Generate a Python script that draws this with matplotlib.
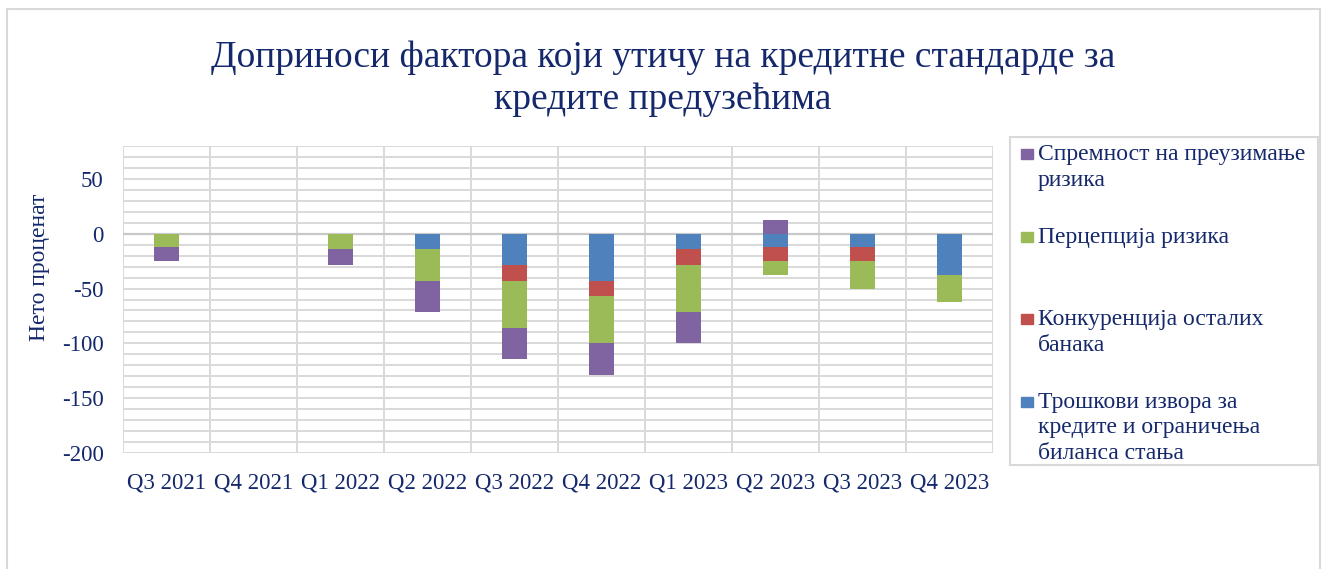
import matplotlib.pyplot as plt
import matplotlib.patches as mpatches
import numpy as np

plt.rcParams['font.family'] = ['Liberation Serif', 'DejaVu Serif']
plt.rcParams['axes.unicode_minus'] = False

quarters = ['Q3 2021', 'Q4 2021', 'Q1 2022', 'Q2 2022', 'Q3 2022',
            'Q4 2022', 'Q1 2023', 'Q2 2023', 'Q3 2023', 'Q4 2023']

# series in stacking order (first one sits next to zero)
troskovi = [0, 0, 0, -14.3, -28.6, -42.9, -14.3, -12.5, -12.5, -37.5]
konkurencija = [0, 0, 0, 0, -14.3, -14.3, -14.3, -12.5, -12.5, 0]
percepcija = [-12.5, 0, -14.3, -28.6, -42.9, -42.9, -42.9, -12.5, -25, -25]
spremnost = [-12.5, 0, -14.3, -28.6, -28.6, -28.6, -28.6, 12.5, 0, 0]

labels = ['Трошкови извора за\nкредите и ограничења\nбиланса стања',
          'Конкуренција осталих\nбанака',
          'Перцепција ризика',
          'Спремност на преузимање\nризика']
colors = ['#4F81BD', '#C0504D', '#9BBB59', '#8064A2']
navy = '#14286B'

W, H = 1323, 569
fig = plt.figure(figsize=(W / 100, H / 100), dpi=100)
ax = fig.add_axes([123 / W, 1 - 453 / H, 870 / W, 307 / H])

x = np.arange(len(quarters))
pos = np.zeros(len(quarters))
neg = np.zeros(len(quarters))
for vals, lab, col in zip([troskovi, konkurencija, percepcija, spremnost], labels, colors):
    v = np.array(vals, dtype=float)
    bottom = np.where(v >= 0, pos, neg)
    ax.bar(x, v, 0.28, bottom=bottom, color=col, label=lab, zorder=3)
    pos += np.where(v > 0, v, 0)
    neg += np.where(v < 0, v, 0)

ax.set_xlim(-0.5, len(quarters) - 0.5)
ax.set_ylim(-200, 80)
ax.set_yticks([-200, -150, -100, -50, 0, 50])
ax.set_yticks(np.arange(-200, 81, 10), minor=True)
ax.set_xticks(x)
ax.set_xticklabels(quarters)
ax.set_xticks(np.arange(-0.5, len(quarters), 1), minor=True)
ax.yaxis.grid(True, which='both', color='#D9D9D9', lw=1.4, zorder=0)
ax.xaxis.grid(True, which='minor', color='#D9D9D9', lw=1.4, zorder=0)
ax.set_axisbelow(True)
ax.axhline(0, color='#C8C8C8', lw=1.6, zorder=1)
ax.tick_params(which='both', length=0, labelsize=16.5, labelcolor=navy)
ax.tick_params(axis='x', pad=14)
ax.tick_params(axis='y', pad=14)
for s in ax.spines.values():
    s.set_visible(False)

fig.text(40 / W, 1 - 267 / H, 'Нето проценат', rotation=90, ha='center', va='center',
         fontsize=17, color=navy)

fig.text(0.501, 1 - 79 / H, 'Доприноси фактора који утичу на кредитне стандарде за\nкредите предузећима',
         ha='center', va='center', fontsize=27, color=navy, linespacing=1.3)

# legend, drawn by hand so the entries sit evenly like the original
fig.patches.append(mpatches.Rectangle((1010 / W, 1 - 465 / H), 308 / W, 328 / H,
                                      transform=fig.transFigure, fill=False,
                                      edgecolor='#D9D9D9', lw=1.5))
first_line = 155
for i, (lab, col) in enumerate(zip(labels[::-1], colors[::-1])):
    yc = first_line + i * 82.5
    fig.patches.append(mpatches.Rectangle((1021 / W, 1 - (yc + 4) / H), 12 / W, 10 / H,
                                          transform=fig.transFigure, color=col))
    for j, line in enumerate(lab.split('\n')):
        fig.text(1038 / W, 1 - (yc + j * 25.5) / H, line, ha='left', va='center',
                 fontsize=17, color=navy)

fig.patches.append(mpatches.Rectangle((7 / W, -0.1), 1313 / W, 1 + 0.1 - 9 / H,
                                      transform=fig.transFigure, fill=False,
                                      edgecolor='#D9D9D9', lw=1.5))

fig.savefig('out.png', dpi=100)
